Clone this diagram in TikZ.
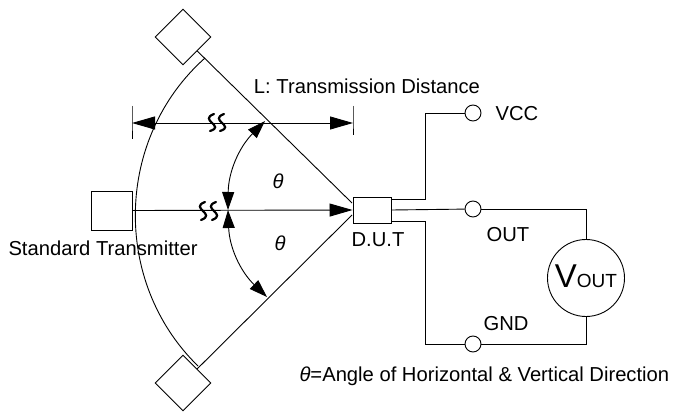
\documentclass[tikz,border=0pt]{standalone}
\usepackage{fontspec}
\setmainfont{Liberation Sans}
\usetikzlibrary{arrows.meta,shapes.geometric}

\tikzstyle{rigfig}=[x=1pt,y=-1pt,line width=0.9pt,font=\fontsize{20.2}{24}\selectfont]
\tikzstyle{box}=[draw,rectangle,inner sep=0pt]
\tikzstyle{rotbox}=[draw,diamond,aspect=1,inner sep=0pt,minimum width=56pt,minimum height=56pt]
\tikzstyle{pin}=[draw,circle,inner sep=0pt,minimum size=16pt]
\tikzstyle{bigtip}=[-{Triangle[length=23pt,width=13pt]}]
\tikzstyle{angtip}=[{Triangle[length=18pt,width=12pt]}-{Triangle[length=18pt,width=12pt]}]
\tikzstyle{wavy}=[line width=2.2pt,line cap=round]

\begin{document}
\begin{tikzpicture}[style=rigfig]
\useasboundingbox (0,0) rectangle (689,412);

% transmitter positions
\node[box,minimum width=41pt,minimum height=39pt] (txmid) at (111.5,210.5) {};
\node[rotbox] (txtop) at (183,37) {};
\node[rotbox] (txbot) at (183,383) {};
\node[box,minimum width=38pt,minimum height=26pt] (dut) at (372,210) {};

\coordinate (dutup) at (352,203);
\coordinate (dutlow) at (352,215);
\coordinate (arctop) at (205,58);
\coordinate (arcbot) at (198,366);
\coordinate (angtop) at (265,121);
\coordinate (angmid) at (228,210);
\coordinate (angbot) at (267,297);

\draw (txtop) -- (dutup);
\draw (txbot) -- (dutlow);
\draw (arctop) to[bend right=47] (arcbot);

% distance arrows
\coordinate (dimleft) at (132,123);
\coordinate (dimright) at (353,123);
\draw (132,106) -- (dimleft) -- (132,139);
\draw (353,106) -- (dimright) -- (353,135);
\draw[bigtip] (217,123) -- (dimleft);
\draw[bigtip] (217,123) -- (dimright);
\draw[bigtip] (txmid.east) -- (dut.west);

\draw[angtip] (angtop) to[bend right=22] (angmid);
\draw[angtip] (angmid) to[bend right=22] (angbot);

% breaks in the lines
\foreach \x in {212,222} \draw[wavy] (\x+2,114) .. controls (\x-14,120) and (\x+14,126) .. (\x-2,131);
\foreach \x in {203,214} \draw[wavy] (\x+2,202) .. controls (\x-14,208) and (\x+14,214) .. (\x-2,220);

% outputs
\node[pin] (vcc) at (473,113) {};
\node[pin] (out) at (473,209) {};
\node[pin] (gnd) at (473,344) {};
\node[draw,circle,inner sep=0pt,minimum size=77pt] (meter) at (586,278) {};

\coordinate (pinvcc) at (391,199);
\coordinate (pingnd) at (391,221);
\draw (pinvcc) -- (425,199) -- (425,113) -- (vcc);
\draw (dut.east) -- (out);
\draw (pingnd) -- (425,221) -- (425,344) -- (gnd);
\draw (out) -| (meter);
\draw (gnd) -| (meter);

% labels
\node (lbldist) at (367,86) {L: Transmission Distance};
\node (lblthetaup) at (278,181) {\textit{θ}};
\node (lblthetalow) at (280,243) {\textit{θ}};
\node (lblstd) at (103,248) {Standard Transmitter};
\node (lbldut) at (378,240) {D.U.T};
\node (lblvcc) at (517,114) {VCC};
\node (lblout) at (508,235) {OUT};
\node (lblgnd) at (506,324) {GND};
\node (lblmeter) at (586,276) {\fontsize{33}{33}\selectfont V\fontsize{19}{19}\selectfont OUT};
\node[anchor=east] (lblnote) at (673,376) {\textit{θ}=Angle of Horizontal \& Vertical Direction};
\end{tikzpicture}
\end{document}
